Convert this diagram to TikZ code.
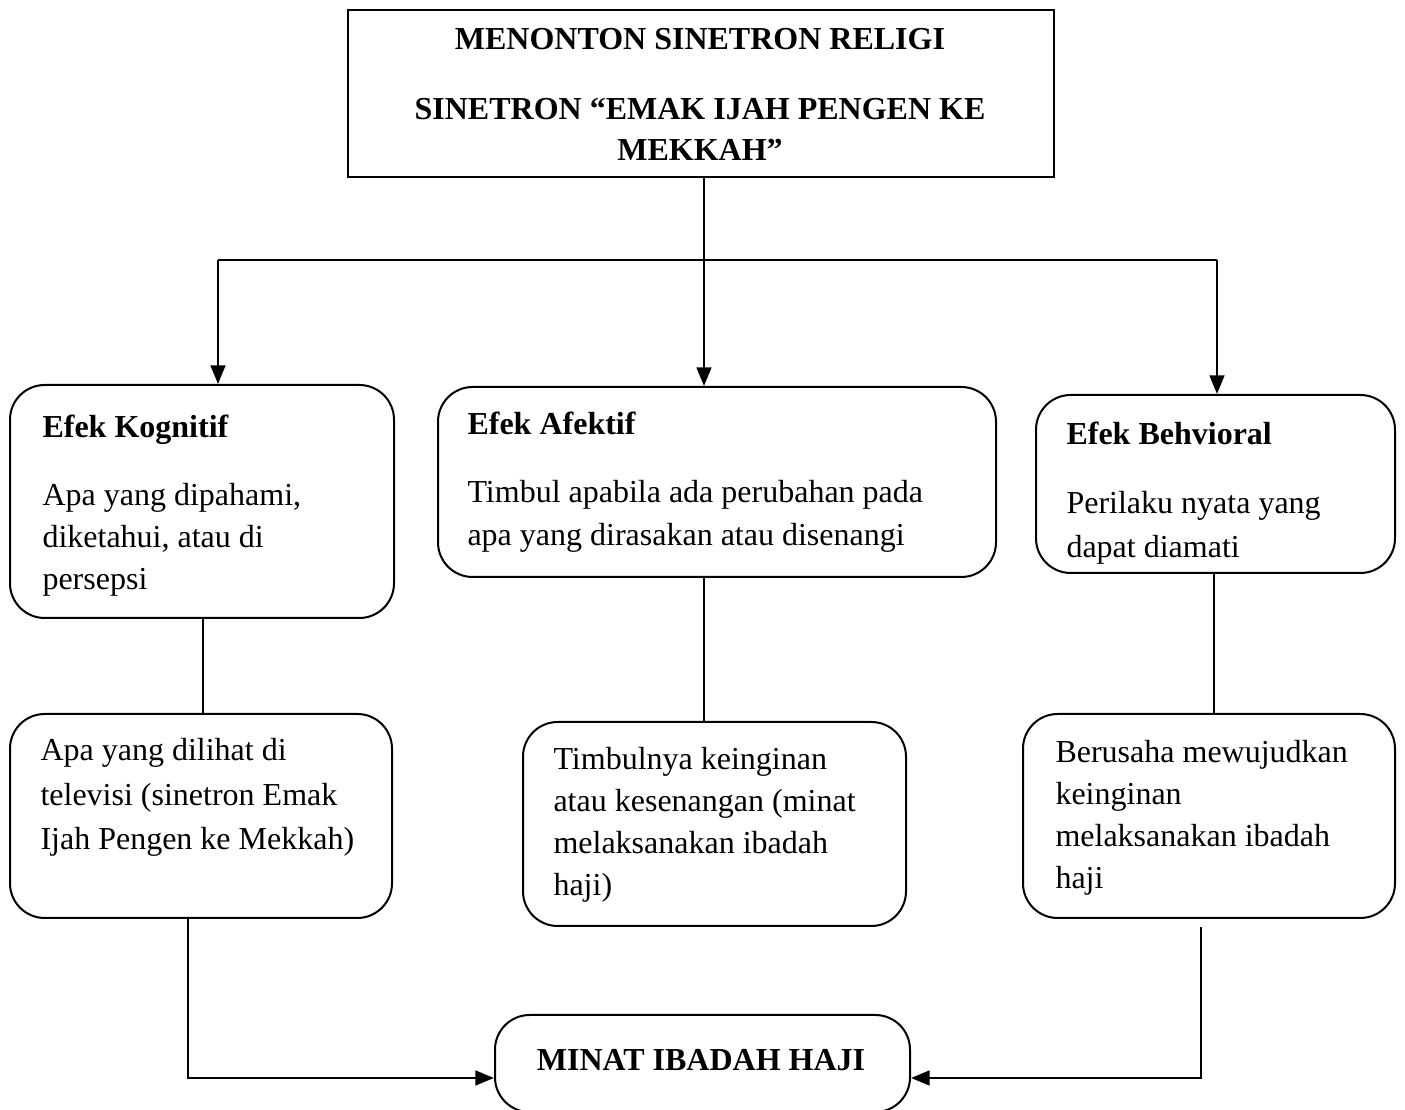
\documentclass[tikz,border=0pt]{standalone}
\usepackage{fontspec}
\setmainfont{Liberation Serif}
\usetikzlibrary{arrows.meta,calc}
\begin{document}
\begin{tikzpicture}[x=0.375pt,y=-0.375pt,
  every node/.style={font=\fontsize{12}{15.75}\selectfont},
  box/.style={draw,line width=0.75pt,rounded corners=13pt,inner sep=0pt},
  sqbox/.style={draw,line width=0.75pt,inner sep=0pt},
  txt/.style={anchor=base west,inner sep=0pt},
  ctxt/.style={anchor=base,inner sep=0pt,font=\fontsize{12}{15.75}\selectfont\bfseries},
  arr/.style={line width=1pt,-{Triangle[length=7pt,width=5.5pt]}},
  link/.style={line width=0.7pt}]
\useasboundingbox (0,0) rectangle (1405,1110);
\clip (0,0) rectangle (1405,1110);

% boxes
\node[sqbox,minimum width=706*0.375pt,minimum height=167*0.375pt] (top) at (701,93.5) {};
\node[box,minimum width=384*0.375pt,minimum height=233*0.375pt] (kog) at (202,501.5) {};
\node[box,minimum width=558*0.375pt,minimum height=190*0.375pt] (afe) at (717,482) {};
\node[box,minimum width=359*0.375pt,minimum height=178*0.375pt] (beh) at (1215.5,484) {};
\node[box,minimum width=382*0.375pt,minimum height=204*0.375pt] (lk) at (201,816) {};
\node[box,minimum width=383*0.375pt,minimum height=204*0.375pt] (la) at (714.5,824) {};
\node[box,minimum width=372*0.375pt,minimum height=204*0.375pt] (lb) at (1209,816) {};
\node[box,minimum width=415*0.375pt,minimum height=97*0.375pt] (minat) at (702.5,1063.5) {};

% title text
\node[ctxt] (t1) at (700,50) {MENONTON SINETRON RELIGI};
\node[ctxt] (t2) at (700,120) {SINETRON “EMAK IJAH PENGEN KE};
\node[ctxt] (t3) at (700,161) {MEKKAH”};

% Kognitif
\node[txt,font=\fontsize{12}{15.75}\selectfont\bfseries] (k0) at (42,438) {Efek Kognitif};
\node[txt] (k1) at (42,506) {Apa yang dipahami,};
\node[txt] (k2) at (42,548) {diketahui, atau di};
\node[txt] (k3) at (42,590) {persepsi};

% Afektif
\node[txt,font=\fontsize{12}{15.75}\selectfont\bfseries] (a0) at (467,435) {Efek Afektif};
\node[txt] (a1) at (467,503) {Timbul apabila ada perubahan pada};
\node[txt] (a2) at (467,546) {apa yang dirasakan atau disenangi};

% Behvioral (descenders cut at the box bottom)
\begin{scope}
\clip[rounded corners=13pt] (1036,395) rectangle (1395,565);
\node[txt,font=\fontsize{12}{15.75}\selectfont\bfseries] (b0) at (1066,445) {Efek Behvioral};
\node[txt] (b1) at (1066,514) {Perilaku nyata yang};
\node[txt] (b2) at (1066,558) {dapat diamati};
\end{scope}

% lower left
\node[txt] (lk1) at (40,761) {Apa yang dilihat di};
\node[txt] (lk2) at (40,806) {televisi (sinetron Emak};
\node[txt] (lk3) at (40,850) {Ijah Pengen ke Mekkah)};

% lower middle
\node[txt] (la1) at (553,770) {Timbulnya keinginan};
\node[txt] (la2) at (553,812) {atau kesenangan (minat};
\node[txt] (la3) at (553,854) {melaksanakan ibadah};
\node[txt] (la4) at (553,896) {haji)};

% lower right
\node[txt] (lb1) at (1055,763) {Berusaha mewujudkan};
\node[txt] (lb2) at (1055,805) {keinginan};
\node[txt] (lb3) at (1055,847) {melaksanakan ibadah};
\node[txt] (lb4) at (1055,889) {haji};

% minat text
\node[ctxt] (m1) at (701,1071) {MINAT IBADAH HAJI};

% connectors
\coordinate (hl) at (218,260);
\coordinate (hm) at (704,260);
\coordinate (hr) at (1217,260);
\coordinate (bx) at (1214,600);
\coordinate (kx) at (203,600);
\coordinate (lkc) at (188,1078);
\coordinate (lbc) at (1201,1078);

\draw[line width=0.8pt] (hl) -- (hr);
\draw[arr] (hm |- top.south) -- (hm |- afe.north);
\draw[arr] (hl) -- (hl |- kog.north);
\draw[arr] (hr) -- (hr |- beh.north);

\draw[link] (kx |- kog.south) -- (kx |- lk.north);
\draw[link] (hm |- afe.south) -- (hm |- la.north);
\draw[link] (bx |- beh.south) -- (bx |- lb.north);

\draw[arr] (lkc |- lk.south) -- (lkc) -- (lkc -| minat.west);
\draw[arr] ([yshift=-3pt]lbc |- lb.south) -- (lbc) -- (lbc -| minat.east);
\end{tikzpicture}
\end{document}
